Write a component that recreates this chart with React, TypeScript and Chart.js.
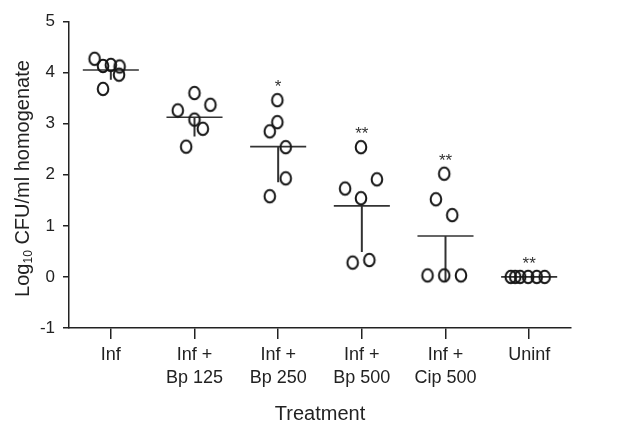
import React, { useEffect, useRef } from 'react';
import { Chart, registerables } from 'chart.js';

Chart.register(...registerables);

const FONT = '"Liberation Sans", Arial, Helvetica, sans-serif';

const categories: string[][] = [
  ['Inf'],
  ['Inf +', 'Bp 125'],
  ['Inf +', 'Bp 250'],
  ['Inf +', 'Bp 500'],
  ['Inf +', 'Cip 500'],
  ['Uninf'],
];

// log10 CFU/ml values per group
const infValues = [4.27, 4.13, 4.15, 4.12, 3.96, 3.68];
const bp125Values = [3.6, 3.26, 3.37, 3.08, 2.9, 2.55];
const bp250Values = [3.46, 3.03, 2.85, 2.54, 1.93, 1.58];
const bp500Values = [2.54, 1.73, 1.91, 1.54, 0.28, 0.33];
const cip500Values = [2.02, 1.52, 1.21, 0.03, 0.03, 0.03];
const uninfValues = [0, 0, 0, 0, 0, 0];

// horizontal scatter (category units) of each point within its group
const infJitter = [-0.194, -0.093, 0.0, 0.105, 0.098, -0.093];
const bp125Jitter = [0.0, -0.2, 0.19, 0.0, 0.1, -0.1];
const bp250Jitter = [-0.01, -0.01, -0.1, 0.09, 0.09, -0.1];
const bp500Jitter = [-0.01, -0.2, 0.18, -0.01, -0.11, 0.09];
const cip500Jitter = [-0.015, -0.115, 0.08, -0.215, -0.015, 0.185];
const uninfJitter = [-0.22, -0.167, -0.108, -0.012, 0.09, 0.185];

const means = [4.05, 3.125, 2.55, 1.39, 0.8, 0];
const sds = [0.19, 0.375, 0.695, 0.9, 0.9, 0];
const significance = ['', '', '*', '**', '**', '**'];
const yTicks = [-1, 0, 1, 2, 3, 4, 5];

const groups = [infValues, bp125Values, bp250Values, bp500Values, cip500Values, uninfValues];
const jitters = [infJitter, bp125Jitter, bp250Jitter, bp500Jitter, cip500Jitter, uninfJitter];

export default function App() {
  const ref = useRef<HTMLCanvasElement>(null);

  useEffect(() => {
    document.body.style.margin = '0';
    const canvas = ref.current!;

    const marker = document.createElement('canvas');
    marker.width = 16;
    marker.height = 18;
    const mctx = marker.getContext('2d')!;
    mctx.strokeStyle = '#151515';
    mctx.lineWidth = 2;
    mctx.beginPath();
    mctx.ellipse(8, 9, 5.3, 6.3, 0, 0, Math.PI * 2);
    mctx.stroke();

    const meanHalf = 0.335;
    const points = groups.flatMap((vals, g) => vals.map((v, k) => ({ x: g + jitters[g][k], y: v })));
    const meanData: any[] = means.flatMap((m, g) => [
      { x: g - meanHalf, y: m },
      { x: g + meanHalf, y: m },
      { x: g, y: null },
    ]);
    const errData: any[] = means.flatMap((m, g) =>
      sds[g] > 0 ? [{ x: g, y: m }, { x: g, y: m - sds[g] }, { x: g, y: null }] : []
    );

    const annot = {
      id: 'annot',
      afterDraw(chart: any) {
        const ctx = chart.ctx as CanvasRenderingContext2D;
        const xs = chart.scales.x;
        const ys = chart.scales.y;
        ctx.save();
        ctx.fillStyle = '#333';
        ctx.font = `17px ${FONT}`;
        ctx.textAlign = 'center';
        ctx.textBaseline = 'alphabetic';
        significance.forEach((s, g) => {
          if (!s) return;
          const top = Math.max(...groups[g]);
          ctx.fillText(s, xs.getPixelForValue(g), ys.getPixelForValue(top) - 8);
        });

        ctx.fillStyle = '#222';
        ctx.font = `20px ${FONT}`;
        ctx.fillText('Treatment', (chart.chartArea.left + chart.chartArea.right) / 2, 420);

        // y title with subscript
        const mainFont = `20px ${FONT}`;
        const subFont = `12px ${FONT}`;
        ctx.font = mainFont;
        const w1 = ctx.measureText('Log').width;
        const w3 = ctx.measureText(' CFU/ml homogenate').width;
        ctx.font = subFont;
        const w2 = ctx.measureText('10').width;
        const total = w1 + w2 + w3;
        ctx.translate(28.5, 178.5);
        ctx.rotate(-Math.PI / 2);
        ctx.textAlign = 'left';
        const start = -total / 2;
        ctx.font = mainFont;
        ctx.fillText('Log', start, 0);
        ctx.font = subFont;
        ctx.fillText('10', start + w1, 3);
        ctx.font = mainFont;
        ctx.fillText(' CFU/ml homogenate', start + w1 + w2, 0);
        ctx.restore();
      },
    };

    const axisColor = '#222';

    const chart = new Chart(canvas, {
      type: 'scatter',
      data: {
        datasets: [
          {
            data: points,
            pointStyle: marker as any,
            pointRadius: 7,
            showLine: false,
          } as any,
          {
            data: meanData,
            showLine: true,
            borderColor: '#333',
            borderWidth: 1.6,
            pointRadius: 0,
            spanGaps: false,
          } as any,
          {
            data: errData,
            showLine: true,
            borderColor: '#333',
            borderWidth: 2,
            pointRadius: 0,
            spanGaps: false,
          } as any,
        ],
      },
      options: {
        responsive: false,
        animation: false,
        events: [],
        layout: { padding: { left: 0, right: 58, top: 21.5, bottom: 0 } },
        plugins: { legend: { display: false }, tooltip: { enabled: false } },
        scales: {
          x: {
            type: 'linear',
            min: -0.5,
            max: 5.5,
            afterBuildTicks: (s: any) => {
              s.ticks = categories.map((_, i) => ({ value: i }));
            },
            afterFit: (s: any) => {
              s.height = 94;
            },
            ticks: {
              callback: (v: any) => categories[Number(v)] ?? '',
              font: { size: 18, family: FONT, lineHeight: 1.25 },
              color: '#222',
              padding: 5,
              maxRotation: 0,
              autoSkip: false,
            },
            grid: { drawOnChartArea: false, drawTicks: true, tickLength: 11, color: axisColor, lineWidth: 1.5 },
            border: { display: true, color: axisColor, width: 1.5 },
          },
          y: {
            min: -1,
            max: 5,
            afterBuildTicks: (s: any) => {
              s.ticks = yTicks.map((v) => ({ value: v }));
            },
            afterFit: (s: any) => {
              s.width = 69;
            },
            ticks: { font: { size: 17, family: FONT }, color: '#222', padding: 8 },
            grid: { drawOnChartArea: false, drawTicks: true, tickLength: 6, color: axisColor, lineWidth: 1.5 },
            border: { display: true, color: axisColor, width: 1.5 },
          },
        },
      } as any,
      plugins: [annot],
    });

    return () => chart.destroy();
  }, []);

  return (
    <div style={{ width: 629, height: 422 }}>
      <canvas ref={ref} width={629} height={422} style={{ display: 'block' }} />
    </div>
  );
}
